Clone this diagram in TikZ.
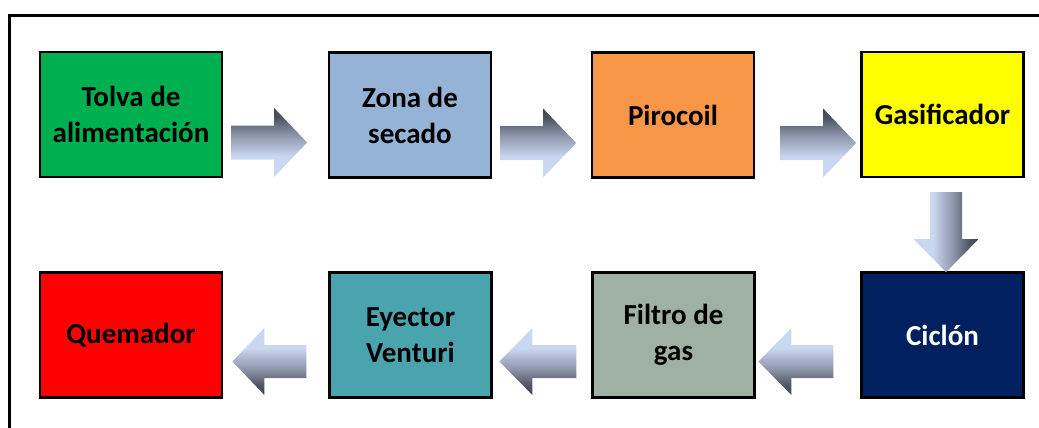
\documentclass[tikz,border=0pt]{standalone}
\usepackage{fontspec}
\setmainfont{Carlito}
\usetikzlibrary{calc}

\definecolor{verdetolva}{HTML}{00B050}
\definecolor{azulsecado}{HTML}{95B3D7}
\definecolor{naranjapiro}{HTML}{F79646}
\definecolor{amarillogas}{HTML}{FFFF00}
\definecolor{azulciclon}{HTML}{002060}
\definecolor{grisfiltro}{HTML}{9FB1A5}
\definecolor{turquesaeyector}{HTML}{4AA4AE}
\definecolor{rojoquem}{HTML}{FF0000}
\definecolor{flclaro}{HTML}{CAD7F0}
\definecolor{flmedio}{HTML}{8A93A8}
\definecolor{flgris}{HTML}{4E5462}
\definecolor{floscuro}{HTML}{111318}

\pgfdeclareverticalshading{flechasombra}{100bp}{color(0bp)=(flclaro); color(40bp)=(flclaro); color(56bp)=(flmedio); color(68bp)=(flgris); color(100bp)=(floscuro)}

\tikzset{
  caja/.style={draw=black, line width=2.2pt, minimum width=162pt, minimum height=125pt,
    align=center, font=\bfseries\fontsize{29}{36}\selectfont, inner sep=2pt},
  flder/.style={shading=flechasombra, shading angle=0},
  flizq/.style={shading=flechasombra, shading angle=180},
  flaba/.style={shading=flechasombra, shading angle=-90},
  marco/.style={line width=3pt}
}

\begin{document}
\begin{tikzpicture}[x=1pt,y=-1pt]
  \useasboundingbox (0,0) rectangle (1039,428);
  \draw[marco] (9.5,428) -- (9.5,15.3) -- (1039,15.3);

  % fila superior
  \node[caja, fill=verdetolva, minimum width=182pt] (tolva) at (131,114.5) {Tolva de\\alimentación};
  \node[caja, fill=azulsecado] (secado) at (410,115) {Zona de\\secado};
  \node[caja, fill=naranjapiro] (piro) at (673,115) {Pirocoil};
  \node[caja, fill=amarillogas] (gasif) at (942.5,114.5) {Gasificador};

  % fila inferior
  \node[caja, fill=rojoquem, minimum width=182pt] (quem) at (131,335) {Quemador};
  \node[caja, fill=turquesaeyector] (eyector) at (410.5,335) {Eyector\\Venturi};
  \node[caja, fill=grisfiltro] (filtro) at (673.5,335) {Filtro de\\gas};
  \node[caja, fill=azulciclon, text=white] (ciclon) at (942.5,335) {Ciclón};

  % colas de las flechas
  \coordinate (c1) at ($(tolva.east)+(8,28)$);
  \coordinate (c2) at ($(secado.east)+(8,28)$);
  \coordinate (c3) at ($(piro.east)+(25,28)$);
  \coordinate (c4) at ($(gasif.south)+(3.5,14)$);
  \coordinate (c5) at ($(ciclon.west)+(-27,26.5)$);
  \coordinate (c6) at ($(filtro.west)+(-15,26.5)$);
  \coordinate (c7) at ($(eyector.west)+(-22,26.5)$);

  \shade[flder] ($(c1)+(0,-17)$) -- ++(43,0) -- ++(0,-17.5) -- ++(33,34.5) -- ++(-33,34.5) -- ++(0,-17.5) -- ++(-43,0) -- cycle;
  \shade[flder] ($(c2)+(0,-17)$) -- ++(43,0) -- ++(0,-17.5) -- ++(33,34.5) -- ++(-33,34.5) -- ++(0,-17.5) -- ++(-43,0) -- cycle;
  \shade[flder] ($(c3)+(0,-17)$) -- ++(43,0) -- ++(0,-17.5) -- ++(33,34.5) -- ++(-33,34.5) -- ++(0,-17.5) -- ++(-43,0) -- cycle;
  \shade[flaba] ($(c4)+(-16,0)$) -- ++(0,47) -- ++(-16.5,0) -- ++(32.5,33) -- ++(32.5,-33) -- ++(-16.5,0) -- ++(0,-47) -- cycle;
  \shade[flizq] ($(c5)+(0,-16.5)$) -- ++(-42,0) -- ++(0,-17) -- ++(-33,33.5) -- ++(33,33.5) -- ++(0,-17) -- ++(42,0) -- cycle;
  \shade[flizq] ($(c6)+(0,-16.5)$) -- ++(-44,0) -- ++(0,-17) -- ++(-33,33.5) -- ++(33,33.5) -- ++(0,-17) -- ++(44,0) -- cycle;
  \shade[flizq] ($(c7)+(0,-16.5)$) -- ++(-42,0) -- ++(0,-17) -- ++(-32,33.5) -- ++(32,33.5) -- ++(0,-17) -- ++(42,0) -- cycle;
\end{tikzpicture}
\end{document}
